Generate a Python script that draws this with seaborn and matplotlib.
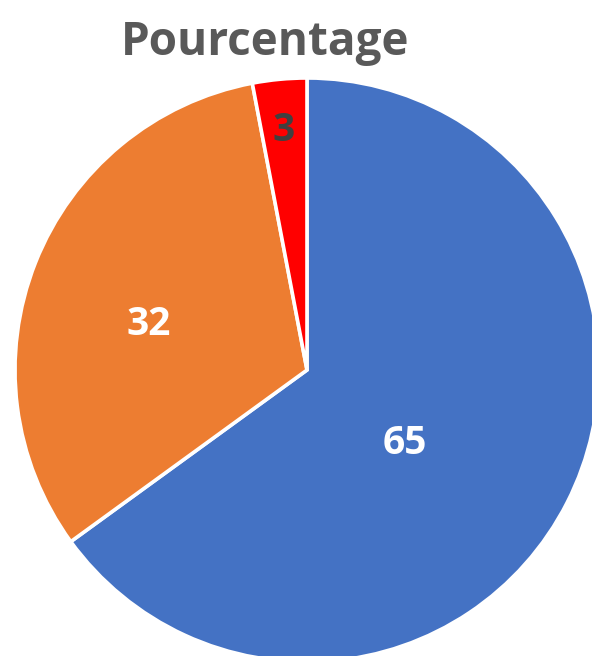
import numpy as np
import matplotlib
matplotlib.use("Agg")
import matplotlib.pyplot as plt
import seaborn as sns

# Category shares and styling
categories = ["A", "B", "C"]
values = [65, 32, 3]
colors = ["#4472C4", "#ED7D31", "#FF0000"]
label_colors = ["white", "white", "#404040"]
label_dist = [0.41, 0.57, 0.84]
label_turn = [-8.0, 4.0, 0.0]  # degrees, nudges each label off the bisector
title = "Pourcentage"

sns.set_theme(style="white")
plt.rcParams["font.family"] = ["Open Sans", "DejaVu Sans"]

W, H = 592, 656
fig = plt.figure(figsize=(W / 100, H / 100), dpi=100)
ax = fig.add_axes([0, 0, 1, 1])

cx, cy, r = 307, H - 370, 292
wedges, _ = ax.pie(values, colors=colors, startangle=90, counterclock=False,
                   center=(cx, cy), radius=r, frame=True,
                   wedgeprops=dict(edgecolor="white", linewidth=2.6))
ax.set_xlim(0, W)
ax.set_ylim(0, H)
ax.set_aspect("equal")
ax.axis("off")

for w, v, c, d, t in zip(wedges, values, label_colors, label_dist, label_turn):
    mid = np.deg2rad((w.theta1 + w.theta2) / 2 + t)
    ax.text(cx + d * r * np.cos(mid), cy + d * r * np.sin(mid), f"{v}",
            ha="center", va="center_baseline", color=c, fontsize=28,
            fontweight="bold")

fig.text(0.448, 1 - 37 / H, title, ha="center", va="center_baseline",
         fontsize=33, fontweight="bold", color="#595959")

fig.savefig("out.png", dpi=100, facecolor="white")
